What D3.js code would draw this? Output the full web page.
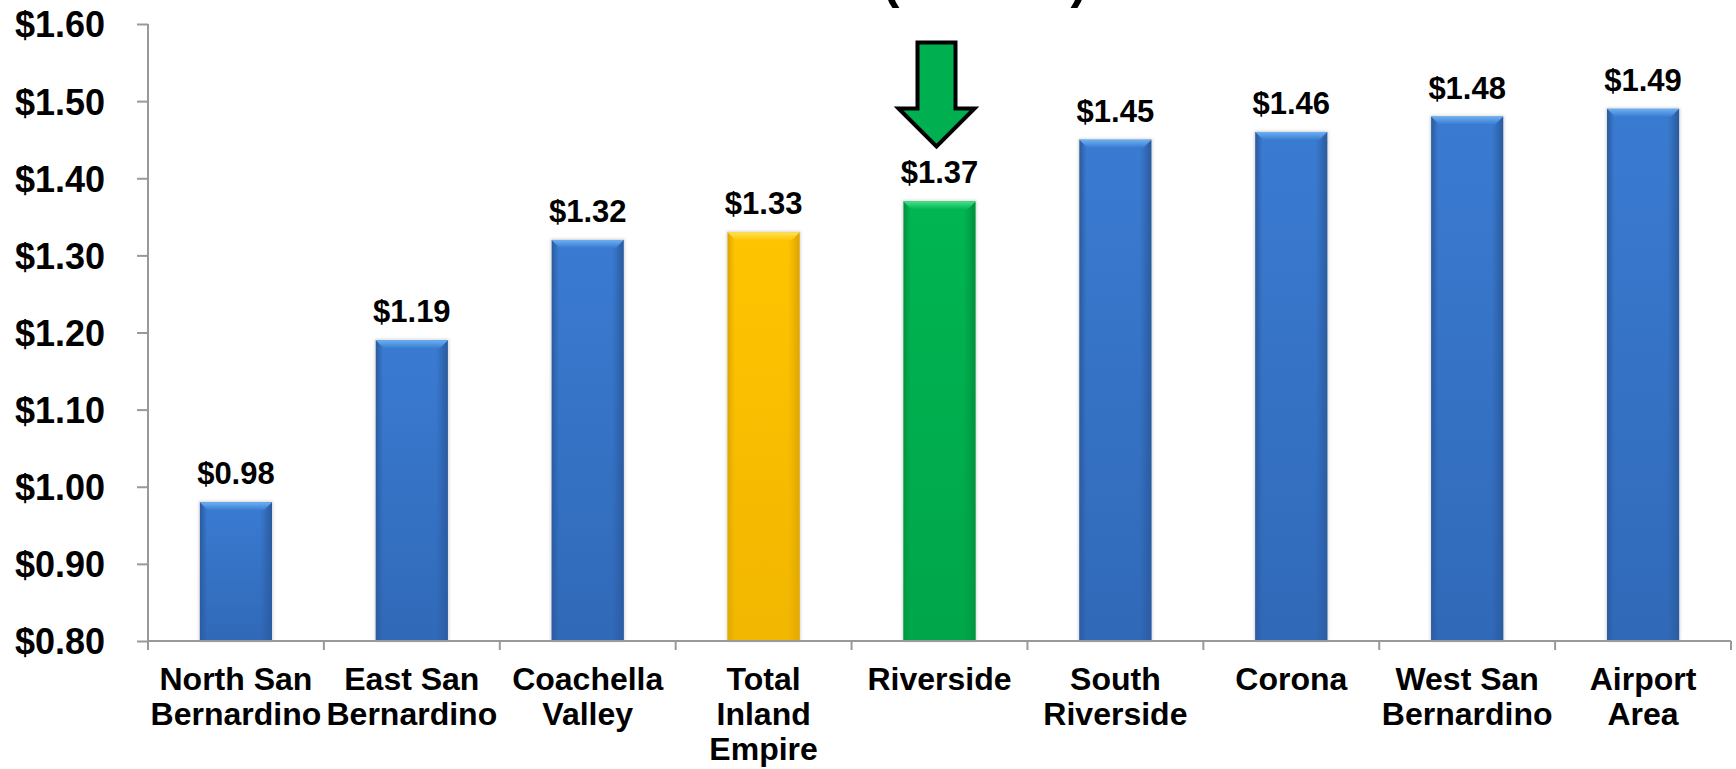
<!DOCTYPE html>
<html lang="en">
<head>
  <meta charset="UTF-8">
  <title>Inland Empire Rates</title>
  <script src="https://d3js.org/d3.v7.min.js"></script>
  <style>
    body { margin: 0; background: #fff; }
    svg { display: block; }
    text { font-family: Arial, "Liberation Sans", sans-serif; font-weight: bold; fill: #000; }
  </style>
</head>
<body>
<div class="main"></div>
<script>
  // chart data
  var regions = [
    ["North San", "Bernardino"],
    ["East San", "Bernardino"],
    ["Coachella", "Valley"],
    ["Total", "Inland", "Empire"],
    ["Riverside"],
    ["South", "Riverside"],
    ["Corona"],
    ["West San", "Bernardino"],
    ["Airport", "Area"]
  ];
  var rates = [0.98, 1.19, 1.32, 1.33, 1.37, 1.45, 1.46, 1.48, 1.49];
  var barKinds = ["blue", "blue", "blue", "total", "city", "blue", "blue", "blue", "blue"];
  var yTicks = [0.80, 0.90, 1.00, 1.10, 1.20, 1.30, 1.40, 1.50, 1.60];
  var highlighted = "Riverside";
  var subtitle = ["(", "Per Month", ")"];

  let width = 1736;
  let height = 769;
  let plotLeft = 148, plotRight = 1731, plotTop = 24, plotBottom = 641;

  let svg = d3.select(".main").append("svg").attr("width", width).attr("height", height);

  // title line sits mostly above the visible area
  svg.append("text").attr("x", 985).attr("y", -2).attr("text-anchor", "middle")
    .selectAll("tspan").data(subtitle).join("tspan")
    .style("font-size", (d, i) => i === 1 ? "35px" : "50px")
    .text(d => d);

  let x = d3.scaleBand().domain(d3.range(rates.length)).range([plotLeft, plotRight]).paddingInner(0.59).paddingOuter(0.295);
  let xb = d3.scaleBand().domain(d3.range(rates.length)).range([plotLeft, plotRight]);
  let y = d3.scaleLinear().domain([0.8, 1.6]).range([plotBottom, plotTop]);

  let palette = {
    blue:  {edge: "#2a5a9c", mid: "#3a7bd2", light: "#6cb0f2", low: "#2a5da6"},
    total: {edge: "#dba400", mid: "#ffc400", light: "#ffe25a", low: "#e8ad00"},
    city:  {edge: "#008f3c", mid: "#00b552", light: "#45e08a", low: "#009c45"}
  };

  let defs = svg.append("defs");
  Object.keys(palette).forEach(function(k) {
    let c = palette[k];
    let g = defs.append("linearGradient").attr("id", "side-" + k).attr("x1", 0).attr("x2", 1).attr("y1", 0).attr("y2", 0);
    g.append("stop").attr("offset", "0%").attr("stop-color", c.edge);
    g.append("stop").attr("offset", "10%").attr("stop-color", c.mid);
    g.append("stop").attr("offset", "84%").attr("stop-color", c.mid);
    g.append("stop").attr("offset", "100%").attr("stop-color", c.edge);
    let v = defs.append("linearGradient").attr("id", "shade-" + k).attr("x1", 0).attr("x2", 0).attr("y1", 0).attr("y2", 1);
    v.append("stop").attr("offset", "0%").attr("stop-color", c.low).attr("stop-opacity", 0);
    v.append("stop").attr("offset", "100%").attr("stop-color", c.low).attr("stop-opacity", 0.6);
    let t = defs.append("linearGradient").attr("id", "bevel-" + k).attr("x1", 0).attr("x2", 0).attr("y1", 0).attr("y2", 1);
    t.append("stop").attr("offset", "0%").attr("stop-color", c.light);
    t.append("stop").attr("offset", "100%").attr("stop-color", c.mid);
  });
  let blur = defs.append("filter").attr("id", "soft").attr("x", "-20%").attr("y", "-20%").attr("width", "140%").attr("height", "140%");
  blur.append("feGaussianBlur").attr("stdDeviation", 1.5);

  // bars
  let bars = svg.append("g").selectAll("g").data(rates).join("g");
  bars.append("rect").attr("x", (d, i) => x(i) - 1).attr("y", d => y(d) - 1)
    .attr("width", x.bandwidth() + 2).attr("height", d => plotBottom - y(d) + 1)
    .style("fill", "#888").style("opacity", 0.35).attr("filter", "url(#soft)");
  bars.append("rect").attr("x", (d, i) => x(i)).attr("y", d => y(d))
    .attr("width", x.bandwidth()).attr("height", d => plotBottom - y(d))
    .style("fill", (d, i) => "url(#side-" + barKinds[i] + ")");
  bars.append("rect").attr("x", (d, i) => x(i)).attr("y", d => y(d))
    .attr("width", x.bandwidth()).attr("height", d => plotBottom - y(d))
    .style("fill", (d, i) => "url(#shade-" + barKinds[i] + ")");
  let bev = 8;
  bars.append("polygon").attr("points", function(d, i) {
    let x0 = x(i), x1 = x(i) + x.bandwidth(), t = y(d);
    return [[x0, t], [x1, t], [x1 - bev, t + bev], [x0 + bev, t + bev]].join(" ");
  }).style("fill", (d, i) => "url(#bevel-" + barKinds[i] + ")");

  // value labels
  svg.append("g").selectAll("text").data(rates).join("text")
    .attr("x", (d, i) => x(i) + x.bandwidth() / 2).attr("y", d => y(d) - 18)
    .attr("text-anchor", "middle").style("font-size", "31px")
    .text(d => "$" + d.toFixed(2));

  // y axis
  let yAxis = svg.append("g").attr("transform", `translate(${plotLeft},0)`)
    .call(d3.axisLeft(y).tickValues(yTicks).tickSize(11).tickPadding(32).tickFormat(d => "$" + d.toFixed(2)));
  yAxis.select(".domain").attr("d", `M0,${plotTop}V${plotBottom + 9}`);
  yAxis.selectAll("path, line").style("stroke", "#999").style("stroke-width", 2);
  yAxis.selectAll("text").style("font-size", "36px").style("font-family", "Arial, 'Liberation Sans', sans-serif").attr("dy", "0.36em");

  // x axis with ticks on band boundaries
  let xAxis = svg.append("g");
  xAxis.append("line").attr("x1", plotLeft).attr("x2", plotRight).attr("y1", plotBottom).attr("y2", plotBottom)
    .style("stroke", "#999").style("stroke-width", 2);
  xAxis.selectAll("line.tk").data(d3.range(rates.length + 1)).join("line").attr("class", "tk")
    .attr("x1", i => plotLeft + i * xb.step()).attr("x2", i => plotLeft + i * xb.step())
    .attr("y1", plotBottom).attr("y2", plotBottom + 9)
    .style("stroke", "#999").style("stroke-width", 2);

  // category labels
  let cats = svg.append("g").selectAll("text").data(regions).join("text")
    .attr("x", (d, i) => xb(i) + xb.bandwidth() / 2).attr("y", 690)
    .attr("text-anchor", "middle").style("font-size", "32px");
  cats.selectAll("tspan").data(d => d).join("tspan")
    .attr("x", function() { return d3.select(this.parentNode).attr("x"); })
    .attr("dy", (d, j) => j === 0 ? 0 : 35)
    .text(d => d);

  // arrow pointing at the highlighted region
  let hi = regions.findIndex(r => r.join(" ") === highlighted);
  let cx = xb(hi) + xb.bandwidth() / 2 - 3;
  let tip = y(rates[hi]) - 55;
  let arrow = [
    [cx - 19, tip - 104], [cx + 19, tip - 104], [cx + 19, tip - 38],
    [cx + 38, tip - 38], [cx, tip], [cx - 38, tip - 38], [cx - 19, tip - 38]
  ];
  svg.append("polygon").attr("points", arrow.join(" "))
    .style("fill", "#00b050").style("stroke", "#000").style("stroke-width", 4).style("stroke-linejoin", "miter");
</script>
</body>
</html>
